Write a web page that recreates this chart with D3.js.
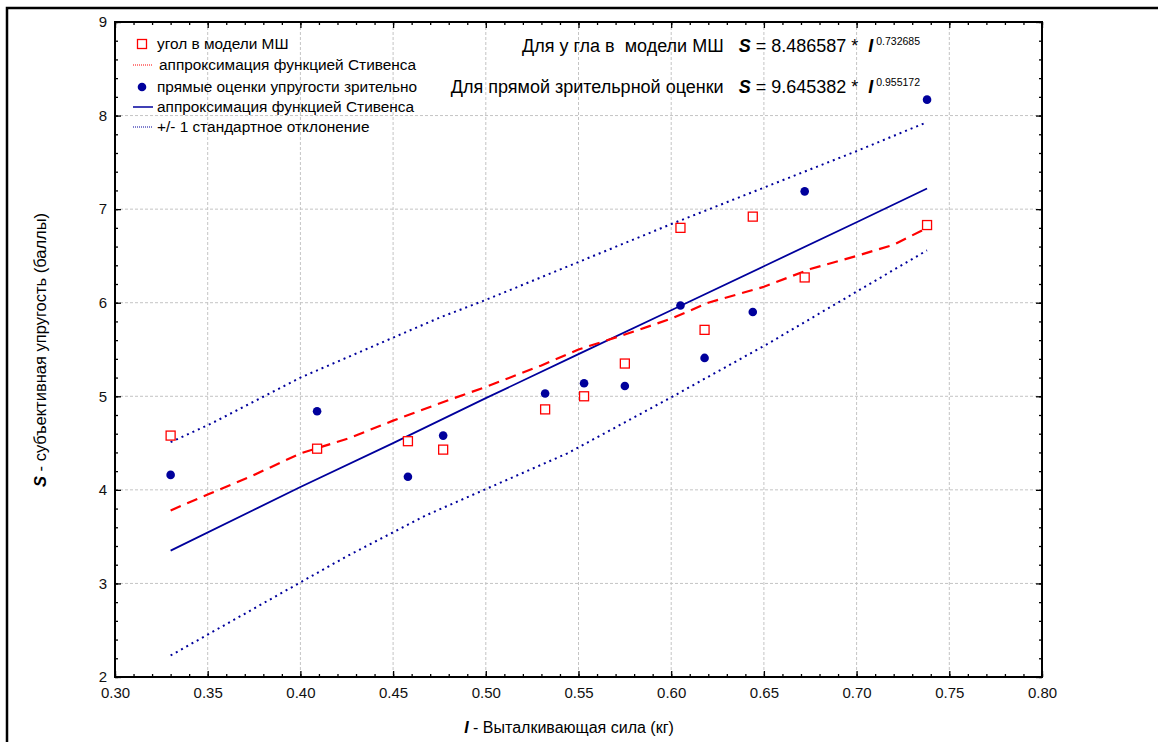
<!DOCTYPE html>
<html>
<head>
<meta charset="utf-8">
<script src="https://cdnjs.cloudflare.com/ajax/libs/d3/7.8.5/d3.min.js"></script>
<style>
  body { margin: 0; background: #fff; }
  svg { font-family: "Liberation Sans", Arial, sans-serif; }
  text { white-space: pre; }
</style>
</head>
<body>
<svg id="chart" width="1158" height="742"></svg>
<script>
(function () {
  "use strict";

  // I - выталкивающая сила (кг)
  const forceI = [0.330, 0.409, 0.458, 0.477, 0.532, 0.553, 0.575, 0.605, 0.618, 0.644, 0.672, 0.738];
  // угол в модели МШ (red squares)
  const angleMS = [4.58, 4.44, 4.52, 4.43, 4.86, 5.00, 5.35, 6.80, 5.71, 6.92, 6.27, 6.83];
  // прямые оценки упругости зрительно (blue dots)
  const visualS = [4.16, 4.84, 4.14, 4.58, 5.03, 5.14, 5.11, 5.97, 5.41, 5.90, 7.19, 8.17];

  // red dashed approximation
  const angleFitI = [0.330, 0.350, 0.374, 0.400, 0.426, 0.450, 0.480, 0.500, 0.530, 0.550, 0.575, 0.600, 0.620, 0.650, 0.675, 0.700, 0.720, 0.738];
  const angleFitS = [3.78, 3.95, 4.15, 4.39, 4.55, 4.74, 4.96, 5.10, 5.33, 5.50, 5.66, 5.83, 6.00, 6.17, 6.36, 6.50, 6.62, 6.80];

  // blue solid approximation and +/- 1 SD band
  const visualFitI = [0.330, 0.400, 0.450, 0.500, 0.550, 0.600, 0.650, 0.700, 0.738];
  const visualFitS = [3.35, 4.03, 4.50, 4.98, 5.45, 5.92, 6.39, 6.86, 7.22];
  const upperI = [0.330, 0.352, 0.400, 0.475, 0.500, 0.600, 0.700, 0.738];
  const upperS = [4.51, 4.71, 5.20, 5.84, 6.03, 6.84, 7.62, 7.93];
  const lowerI = [0.330, 0.425, 0.468, 0.544, 0.601, 0.652, 0.738];
  const lowerS = [2.23, 3.29, 3.73, 4.39, 5.00, 5.56, 6.56];

  const xTicks = [0.30, 0.35, 0.40, 0.45, 0.50, 0.55, 0.60, 0.65, 0.70, 0.75, 0.80];
  const yTicks = [2, 3, 4, 5, 6, 7, 8, 9];

  const legendLabels = [
    "угол в модели МШ",
    "аппроксимация функцией Стивенса",
    "прямые оценки упругости зрительно",
    "аппроксимация функцией Стивенса",
    "+/- 1 стандартное отклонение"
  ];

  const red = "#ff0000";
  const blue = "#00009c";

  const left = 115, right = 1042, top = 22, bottom = 677;

  const svg = d3.select("#chart");

  // outer frame of the picture
  svg.append("path")
    .attr("d", `M7,742 V8 H1158`)
    .attr("fill", "none")
    .attr("stroke", "#000")
    .attr("stroke-width", 2.5);

  const x = d3.scaleLinear().domain([0.30, 0.80]).range([left, right]);
  const y = d3.scaleLinear().domain([2, 9]).range([bottom, top]);

  const minorX = d3.range(30, 81).map(d => d / 100);
  const minorY = d3.range(10, 46).map(d => d / 5);

  // grid
  svg.append("g")
    .selectAll("line.gx")
    .data(xTicks.slice(1, -1))
    .join("line")
      .attr("x1", d => x(d)).attr("x2", d => x(d))
      .attr("y1", top).attr("y2", bottom)
      .attr("stroke", "#c4c4c4")
      .attr("stroke-dasharray", "3,2");
  svg.append("g")
    .selectAll("line.gy")
    .data(yTicks.slice(1, -1))
    .join("line")
      .attr("y1", d => y(d)).attr("y2", d => y(d))
      .attr("x1", left).attr("x2", right)
      .attr("stroke", "#c4c4c4")
      .attr("stroke-dasharray", "3,2");

  // axes, ticks turned inwards
  function styleAxis(g) {
    g.select(".domain").remove();
    g.selectAll("line").attr("stroke", "#000").attr("stroke-width", 1.3);
    g.selectAll("text").attr("font-size", 15).attr("fill", "#111");
  }

  svg.append("g")
    .attr("transform", `translate(0,${bottom})`)
    .call(d3.axisBottom(x).tickValues(minorX).tickSize(-3).tickFormat(""))
    .call(styleAxis);
  svg.append("g")
    .attr("transform", `translate(0,${bottom})`)
    .call(d3.axisBottom(x).tickValues(xTicks).tickSize(-6).tickPadding(10).tickFormat(d3.format(".2f")))
    .call(styleAxis);
  svg.append("g")
    .attr("transform", `translate(0,${top})`)
    .call(d3.axisTop(x).tickValues(minorX).tickSize(-3).tickFormat(""))
    .call(styleAxis);
  svg.append("g")
    .attr("transform", `translate(0,${top})`)
    .call(d3.axisTop(x).tickValues(xTicks).tickSize(-6).tickFormat(""))
    .call(styleAxis);

  svg.append("g")
    .attr("transform", `translate(${left},0)`)
    .call(d3.axisLeft(y).tickValues(minorY).tickSize(-3).tickFormat(""))
    .call(styleAxis);
  svg.append("g")
    .attr("transform", `translate(${left},0)`)
    .call(d3.axisLeft(y).tickValues(yTicks).tickSize(-6).tickPadding(8).tickFormat(d3.format("d")))
    .call(styleAxis);
  svg.append("g")
    .attr("transform", `translate(${right},0)`)
    .call(d3.axisRight(y).tickValues(minorY).tickSize(-3).tickFormat(""))
    .call(styleAxis);
  svg.append("g")
    .attr("transform", `translate(${right},0)`)
    .call(d3.axisRight(y).tickValues(yTicks).tickSize(-6).tickFormat(""))
    .call(styleAxis);

  // plot frame
  svg.append("rect")
    .attr("x", left).attr("y", top)
    .attr("width", right - left).attr("height", bottom - top)
    .attr("fill", "none")
    .attr("stroke", "#000")
    .attr("stroke-width", 2);

  const line = d3.line().x(d => x(d[0])).y(d => y(d[1]));

  // +/- 1 SD
  [[upperI, upperS], [lowerI, lowerS]].forEach(function (pair) {
    svg.append("path")
      .datum(d3.zip(pair[0], pair[1]))
      .attr("d", line)
      .attr("fill", "none")
      .attr("stroke", blue)
      .attr("stroke-width", 2)
      .attr("stroke-dasharray", "2,4");
  });

  svg.append("path")
    .datum(d3.zip(visualFitI, visualFitS))
    .attr("d", line)
    .attr("fill", "none")
    .attr("stroke", blue)
    .attr("stroke-width", 1.8);

  svg.append("path")
    .datum(d3.zip(angleFitI, angleFitS))
    .attr("d", line)
    .attr("fill", "none")
    .attr("stroke", red)
    .attr("stroke-width", 2.2)
    .attr("stroke-dasharray", "11,7");

  // points
  svg.append("g")
    .selectAll("rect")
    .data(d3.zip(forceI, angleMS))
    .join("rect")
      .attr("x", d => x(d[0]) - 4.5)
      .attr("y", d => y(d[1]) - 4.5)
      .attr("width", 9).attr("height", 9)
      .attr("fill", "#fff")
      .attr("stroke", red)
      .attr("stroke-width", 1.3);

  svg.append("g")
    .selectAll("circle")
    .data(d3.zip(forceI, visualS))
    .join("circle")
      .attr("cx", d => x(d[0]))
      .attr("cy", d => y(d[1]))
      .attr("r", 4.3)
      .attr("fill", blue);

  // legend
  const legendY = [44, 65, 87, 107, 127];
  const lg = svg.append("g").attr("font-size", 15.4).attr("fill", "#000");
  lg.append("rect").attr("x", 137.5).attr("y", legendY[0] - 4.5).attr("width", 9).attr("height", 9)
    .attr("fill", "#fff").attr("stroke", red).attr("stroke-width", 1.3);
  lg.append("line").attr("x1", 133).attr("x2", 153).attr("y1", legendY[1]).attr("y2", legendY[1])
    .attr("stroke", red).attr("stroke-width", 1).attr("stroke-dasharray", "1,1");
  lg.append("circle").attr("cx", 142).attr("cy", legendY[2]).attr("r", 4.3).attr("fill", blue);
  lg.append("line").attr("x1", 133).attr("x2", 153).attr("y1", legendY[3]).attr("y2", legendY[3])
    .attr("stroke", blue).attr("stroke-width", 1.5);
  lg.append("line").attr("x1", 133).attr("x2", 153).attr("y1", legendY[4]).attr("y2", legendY[4])
    .attr("stroke", blue).attr("stroke-width", 1).attr("stroke-dasharray", "1,1");
  lg.selectAll("text")
    .data(legendLabels)
    .join("text")
      .attr("x", (d, i) => i === 1 ? 159 : 157)
      .attr("y", (d, i) => legendY[i])
      .attr("dy", "0.35em")
      .text(d => d);

  // fitted equations
  function equation(yPos, label, coef, power) {
    const t = svg.append("text")
      .attr("x", 920).attr("y", yPos)
      .attr("text-anchor", "end")
      .attr("font-size", 18)
      .attr("fill", "#000");
    t.append("tspan").text(label);
    t.append("tspan").attr("font-weight", "bold").attr("font-style", "italic").text("S");
    t.append("tspan").text(" = " + coef + " *  ");
    t.append("tspan").attr("font-weight", "bold").attr("font-style", "italic").text("I");
    t.append("tspan").attr("font-size", 10.5).attr("dy", -7).text(" " + power);
  }
  equation(52, "Для у гла в  модели МШ   ", "8.486587", "0.732685");
  equation(93, "Для прямой зрительрной оценки   ", "9.645382", "0.955172");

  // axis titles
  const xt = svg.append("text")
    .attr("x", 569).attr("y", 733)
    .attr("text-anchor", "middle")
    .attr("font-size", 16);
  xt.append("tspan").attr("font-weight", "bold").attr("font-style", "italic").text("I");
  xt.append("tspan").text(" - Выталкивающая сила (кг)");

  const yt = svg.append("text")
    .attr("transform", "translate(46,350) rotate(-90)")
    .attr("text-anchor", "middle")
    .attr("font-size", 16.5);
  yt.append("tspan").attr("font-weight", "bold").attr("font-style", "italic").text("S");
  yt.append("tspan").text(" - субъективная упругость (баллы)");
}());
</script>
</body>
</html>
